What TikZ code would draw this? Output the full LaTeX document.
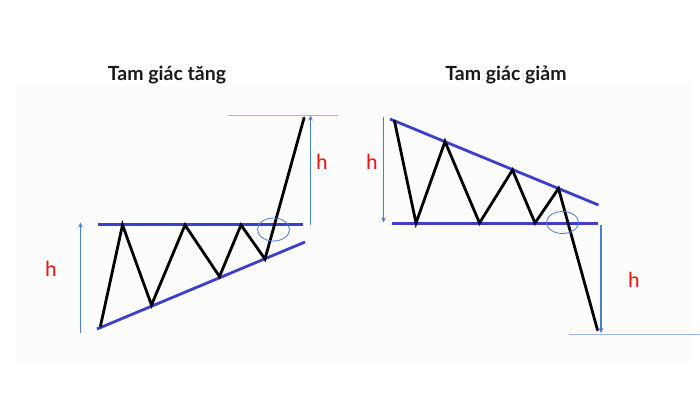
\documentclass[tikz,border=0pt]{standalone}
\usepackage{fontspec}
\setmainfont{Lato}
\newfontfamily\hfont{Carlito}
\usetikzlibrary{arrows.meta,shapes.geometric}
\definecolor{trend}{HTML}{3B3FCC}
\definecolor{measure}{HTML}{4A7CD0}
\definecolor{target}{HTML}{9DB8E6}
\definecolor{hred}{HTML}{F01010}
\definecolor{panel}{HTML}{FCFCFC}
\tikzset{
  trendline/.style={trend, line width=2.8pt},
  price/.style={black, line width=2.8pt, line join=miter, line cap=round},
  measarrow/.style={measure, line width=1.5pt, -{Stealth[length=5pt,width=4.5pt]}},
  targetline/.style={target, line width=0.9pt},
  breakring/.style={measure, line width=0.8pt},
  title/.style={font=\bfseries\fontsize{19.5}{22}\selectfont, text=black!90},
  hlabel/.style={font=\hfont\fontsize{22}{24}\selectfont, text=hred},
  pt/.style={coordinate}
}
\begin{document}
\begin{tikzpicture}[x=1pt,y=-1pt]
\useasboundingbox (0,0) rectangle (700,400);
\fill[white] (0,0) rectangle (700,400);
\fill[panel] (16,85) rectangle (692,362);

% titles
\node[title] (t1) at (167,75) {Tam giác tăng};
\node[title] (t2) at (506,75) {Tam giác giảm};

% ---------- ascending triangle ----------
\coordinate (r1a) at (98,224.5);
\coordinate (r1b) at (303,224.5);
\coordinate (s1a) at (97,329);
\coordinate (s1b) at (305,242);
\draw[trendline] (r1a) -- (r1b);
\draw[trendline] (s1a) -- (s1b);
\node[pt] (a0) at (100.5,326) {};
\node[pt] (a1) at (122.5,225) {};
\node[pt] (a2) at (151.5,305) {};
\node[pt] (a3) at (185,225) {};
\node[pt] (a4) at (219.5,276.5) {};
\node[pt] (a5) at (241,225) {};
\node[pt] (a6) at (265,259) {};
\node[pt] (a7) at (304,118) {};
\draw[price] (a0) -- (a1) -- (a2) -- (a3) -- (a4) -- (a5) -- (a6) -- (a7);
\node[draw, breakring, ellipse, minimum width=32pt, minimum height=23pt, inner sep=0pt] (e1) at (273.5,229.5) {};
\coordinate (g1a) at (228,115.5);
\coordinate (g1b) at (338,115.5);
\draw[targetline] (g1a) -- (g1b);
\coordinate (m1a) at (310.5,225);
\coordinate (m1b) at (310.5,115.5);
\draw[measarrow] (m1a) -- (m1b);
\coordinate (m2a) at (80.5,333);
\coordinate (m2b) at (80.5,222.5);
\draw[measarrow] (m2a) -- (m2b);
\node[hlabel] (h1) at (322,162) {h};
\node[hlabel] (h2) at (51,269) {h};

% ---------- descending triangle ----------
\coordinate (r2a) at (390,119);
\coordinate (r2b) at (598.5,205);
\coordinate (s2a) at (392,223.5);
\coordinate (s2b) at (597.5,223.5);
\draw[trendline] (r2a) -- (r2b);
\draw[trendline] (s2a) -- (s2b);
\node[pt] (b0) at (394.5,121) {};
\node[pt] (b1) at (416,223) {};
\node[pt] (b2) at (445,141.5) {};
\node[pt] (b3) at (479.5,223) {};
\node[pt] (b4) at (512.5,170) {};
\node[pt] (b5) at (535,223) {};
\node[pt] (b6) at (558.5,188.5) {};
\node[pt] (b7) at (597.5,330) {};
\draw[price] (b0) -- (b1) -- (b2) -- (b3) -- (b4) -- (b5) -- (b6) -- (b7);
\node[draw, breakring, ellipse, minimum width=32pt, minimum height=22pt, inner sep=0pt] (e2) at (562.5,222.5) {};
\coordinate (m3a) at (383.5,116.5);
\coordinate (m3b) at (383.5,222.5);
\draw[measarrow] (m3a) -- (m3b);
\coordinate (m4a) at (601,225);
\coordinate (m4b) at (601,333);
\draw[measarrow] (m4a) -- (m4b);
\coordinate (g2a) at (569,334);
\coordinate (g2b) at (700,334);
\draw[targetline] (g2a) -- (g2b);
\node[hlabel] (h3) at (372,162) {h};
\node[hlabel] (h4) at (634,280) {h};
\end{tikzpicture}
\end{document}
